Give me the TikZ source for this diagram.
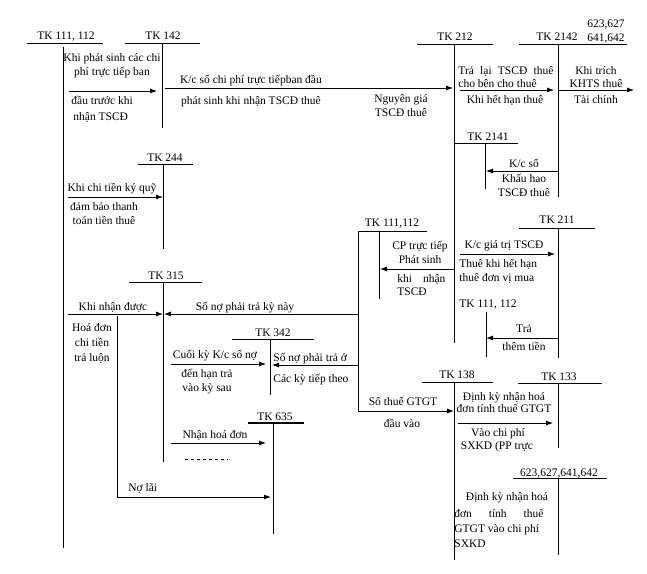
\documentclass[tikz,border=0pt]{standalone}
\usepackage{fontspec}
\setmainfont{Liberation Serif}
\usepackage{tikz}
\usetikzlibrary{arrows.meta}

\begin{document}
\begin{tikzpicture}[x=1pt, y=-1pt, line width=0.8pt,
    lbl/.style={inner sep=0pt, anchor=base, font=\fontsize{11.5}{13}\selectfont},
    lbll/.style={lbl, anchor=base west},
    arr/.style={-{Latex[length=7pt,width=5pt]}}]
    \useasboundingbox (0,0) rectangle (647,573);

    % Tai khoan TK 111, 112
    \node[lbl] (tk111) at (66,39) {TK 111, 112};
    \draw (27,43) -- (103,43);
    \draw (63,47) -- (63,548);

    % TK 142
    \node[lbl] (tk142) at (163,39) {TK 142};
    \draw (125,43) -- (200,43);
    \draw (162,43) -- (162,128);
    \node[lbl] (c1) at (112,61) {Khi phát sinh các chi};
    \node[lbl] (c2) at (112,75) {phí trực tiếp ban};
    \draw[arr] (69,91) -- (157,91);
    \node[lbll] (c3) at (71,104) {đầu trước khi};
    \node[lbll] (c4) at (73,120) {nhận TSCĐ};

    % K/c sang TK 212
    \node[lbl] (k1) at (251,83) {K/c số chi phí trực tiếpban đầu};
    \draw[arr] (165,88) -- (453,88);
    \node[lbl] (k2) at (251,104) {phát sinh khi nhận TSCĐ thuê};
    \node[lbl] (ng1) at (401,102) {Nguyên giá};
    \node[lbl] (ng2) at (401,116) {TSCĐ thuê};

    % TK 212
    \node[lbl] (tk212) at (455,40) {TK 212};
    \draw (417,44) -- (493,44);
    \draw (454,44) -- (454,343);
    \node[lbll] (tl1) at (458,74) {\makebox[95pt][s]{Trả lại TSCĐ thuê}};
    \node[lbll] (tl2) at (458,87) {cho bên cho thuê};
    \draw[arr] (460,90) -- (554,90);
    \node[lbl] (tl3) at (505,103) {Khi hết hạn thuê};

    % TK 2142 va 623,627 641,642
    \node[lbl] (tk2142) at (557,40) {TK 2142};
    \node[lbl] (cp1) at (606,27) {623,627};
    \node[lbl] (cp2) at (606,41) {641,642};
    \draw (519,44) -- (627,44);
    \draw (558,44) -- (558,197);
    \node[lbl] (kh1) at (596,74) {Khi trích};
    \node[lbl] (kh2) at (596,87) {KHTS thuê};
    \draw[arr] (559,90) -- (634,90);
    \node[lbl] (kh3) at (596,103) {Tài chính};

    % TK 2141
    \node[lbl] (tk2141) at (488,140) {TK 2141};
    \draw (454,143) -- (518,143);
    \draw (485,143) -- (485,189);
    \node[lbl] (ks1) at (524,167) {K/c số};
    \draw[arr] (558,171) -- (486,171);
    \node[lbl] (ks2) at (524,182) {Khấu hao};
    \node[lbl] (ks3) at (524,196) {TSCĐ thuê};

    % TK 244
    \node[lbl] (tk244) at (165,161) {TK 244};
    \draw (138,164) -- (193,164);
    \draw (163,164) -- (163,249);
    \node[lbl] (kq1) at (112,191) {Khi chi tiền ký quỹ};
    \draw[arr] (68,197) -- (163,197);
    \node[lbl] (kq2) at (104,210) {đảm bảo thanh};
    \node[lbl] (kq3) at (104,224) {toán tiền thuê};

    % TK 111,112 (giua)
    \node[lbl] (tk111b) at (392,226) {TK 111,112};
    \draw (358,231) -- (427,231);
    \draw (379,231) -- (379,299);
    \draw (358,231) -- (358,411);
    \node[lbl] (ct1) at (420,249) {CP trực tiếp};
    \node[lbl] (ct2) at (420,263) {Phát sinh};
    \draw[arr] (454,269) -- (380,269);
    \node[lbll] (ct3) at (397,282) {\makebox[48pt][s]{khi nhận}};
    \node[lbll] (ct4) at (397,295) {TSCĐ};

    % TK 211
    \node[lbl] (tk211) at (557,223) {TK 211};
    \draw (519,228) -- (595,228);
    \draw (558,228) -- (558,358);
    \node[lbl] (gt1) at (504,248) {K/c giá trị TSCĐ};
    \draw[arr] (460,254) -- (555,254);
    \node[lbll] (gt2) at (459,267) {Thuê khi hết hạn};
    \node[lbll] (gt3) at (459,281) {thuê đơn vị mua};

    % TK 111, 112 (tra them)
    \node[lbl] (tk111c) at (488,307) {TK 111, 112};
    \draw (486,312) -- (486,357);
    \node[lbl] (tt1) at (524,332) {Trả};
    \draw[arr] (558,338) -- (486,338);
    \node[lbl] (tt2) at (524,350) {thêm tiền};

    % TK 315
    \node[lbl] (tk315) at (166,279) {TK 315};
    \draw (129,282) -- (202,282);
    \draw (163,282) -- (163,462);
    \node[lbl] (nd1) at (113,310) {Khi nhận được};
    \draw[arr] (68,314) -- (163,314);
    \node[lbl] (sn1) at (245,310) {Số nợ phải trả kỳ này};
    \draw[arr] (358,314) -- (164,314);
    \node[lbl] (hd1) at (92,331) {Hoá đơn};
    \node[lbl] (hd2) at (92,346) {chi tiền};
    \node[lbl] (hd3) at (92,361) {trả luộn};
    \draw (117,316) -- (117,497);
    \draw[arr] (117,497) -- (271,497);
    \node[lbll] (nl) at (128,491) {Nợ lãi};

    % TK 342
    \node[lbl] (tk342) at (273,336) {TK 342};
    \draw (232,339) -- (314,339);
    \draw (270,339) -- (270,395);
    \node[lbl] (ck1) at (215,358) {Cuối kỳ K/c số nợ};
    \draw[arr] (171,364) -- (266,364);
    \node[lbl] (ck2) at (207,377) {đến hạn trả};
    \node[lbl] (ck3) at (207,391) {vào kỳ sau};
    \node[lbll] (sn2) at (273,361) {Số nợ phải trả ở};
    \draw[arr] (358,365) -- (272,365);
    \node[lbll] (sn3) at (273,382) {Các kỳ tiếp theo};

    % TK 635
    \node[lbl] (tk635) at (275,420) {TK 635};
    \draw[line width=1.6pt] (248,423) -- (304,423);
    \draw (273,423) -- (273,534);
    \node[lbl] (nh1) at (215,438) {Nhận hoá đơn};
    \draw[arr] (171,443) -- (266,443);
    \draw[dashed, line width=0.6pt] (185,459) -- (228,459);

    % TK 138
    \node[lbl] (tk138) at (457,378) {TK 138};
    \draw (422,382) -- (493,382);
    \draw (454,383) -- (454,560);
    \node[lbl] (gtgt1) at (403,405) {Số thuế GTGT};
    \draw[arr] (358,411) -- (454,411);
    \node[lbl] (gtgt2) at (402,427) {đầu vào};

    % TK 133
    \node[lbl] (tk133) at (559,380) {TK 133};
    \draw (518,383) -- (602,383);
    \draw (558,383) -- (558,448);
    \node[lbl] (dk1) at (504,400) {Định kỳ nhận hoá};
    \node[lbl] (dk2) at (504,412) {đơn tính thuế GTGT};
    \draw[arr] (458,423) -- (553,423);
    \node[lbl] (dk3) at (498,436) {Vào chi phí};
    \node[lbl] (dk4) at (497,449) {SXKD (PP trực};

    % TK 623,627,641,642
    \node[lbl] (tk623) at (559,476) {623,627,641,642};
    \draw (513,478) -- (607,478);
    \draw (558,478) -- (558,555);
    \node[lbl] (dd1) at (507,500) {Định kỳ nhận hoá};
    \node[lbll] (dd2) at (454,517) {\makebox[89pt][s]{đơn tính thuế}};
    \node[lbll] (dd3) at (454,532) {GTGT vào chi phí};
    \node[lbll] (dd4) at (454,547) {SXKD};
\end{tikzpicture}
\end{document}
